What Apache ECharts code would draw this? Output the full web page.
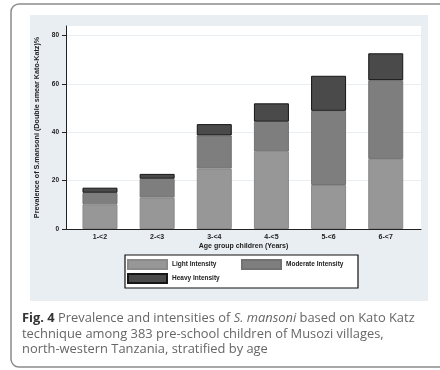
<!DOCTYPE html>
<html>
<head>
<meta charset="utf-8">
<script src="https://cdn.jsdelivr.net/npm/echarts@6/dist/echarts.min.js"></script>
<style>
  html, body { margin: 0; padding: 0; background: #fff; }
  #chart { width: 440px; height: 370px; }
</style>
</head>
<body>
<div id="chart"></div>
<script>
// Age groups (years) and prevalence (%) by infection intensity
const ageGroups = ['1-<2', '2-<3', '3-<4', '4-<5', '5-<6', '6-<7'];
const lightIntensity = [10.2, 13.0, 25.0, 32.0, 18.2, 29.0];
const moderateIntensity = [4.8, 7.8, 13.7, 12.4, 30.7, 32.6];
const heavyIntensity = [2.1, 2.0, 4.7, 7.6, 14.5, 11.1];
const yTicks = [0, 20, 40, 60, 80];
const yMax = 84;

const axisFont = 'Liberation Sans';
const chart = echarts.init(document.getElementById('chart'), null, { renderer: 'canvas' });

function barSeries(name, values, fill, border) {
  return {
    name: name,
    type: 'bar',
    stack: 'total',
    xAxisIndex: 1,
    yAxisIndex: 1,
    barWidth: 35,
    data: values,
    itemStyle: { color: fill, borderColor: border, borderWidth: 1 },
    emphasis: { disabled: true },
    z: 3
  };
}

function legendAt(left, top, name) {
  return {
    left: left, top: top, data: [name],
    itemWidth: 39, itemHeight: 9, padding: 0,
    icon: 'rect', selectedMode: false,
    textStyle: { fontFamily: axisFont, fontWeight: 'bold', fontSize: 6.5, color: '#222' },
    z: 10
  };
}

const option = {
  animation: false,
  backgroundColor: '#ffffff',
  graphic: [
    { type: 'rect', z: -10, shape: { x: 11, y: 4, width: 450, height: 363, r: 8 },
      style: { fill: '#ffffff', stroke: '#8c8c8c', lineWidth: 1.5 } },
    { type: 'rect', z: -9, shape: { x: 30, y: 15, width: 398, height: 286 },
      style: { fill: '#e8eef2' } },
    { type: 'rect', z: 5, shape: { x: 125, y: 255, width: 233, height: 33 },
      style: { fill: '#ffffff', stroke: '#111', lineWidth: 1.2 } },
    { type: 'text', left: 22, top: 311, z: 5,
      style: {
        text: '{b|Fig. 4} Prevalence and intensities of {i|S. mansoni} based on Kato Katz\n' +
              'technique among 383 pre-school children of Musozi villages,\n' +
              'north-western Tanzania, stratified by age',
        fontFamily: 'Open Sans', fontSize: 12.9, lineHeight: 15.5, fill: '#666',
        rich: {
          b: { fontFamily: 'Open Sans', fontWeight: 'bold', fontSize: 12.9, fill: '#333', lineHeight: 15.5 },
          i: { fontFamily: 'Open Sans', fontStyle: 'italic', fontSize: 12.9, fill: '#666', lineHeight: 15.5 }
        }
      } }
  ],
  legend: [
    legendAt(127, 259, 'Light Intensity'),
    legendAt(241, 259, 'Moderate Intensity'),
    legendAt(127, 273, 'Heavy Intensity')
  ],
  grid: [
    // plot region with the axis frame
    { left: 66, right: 19, top: 26, bottom: 141, show: true, backgroundColor: '#ffffff', borderWidth: 0 },
    // inner band holding the six bar categories
    { left: 71.4, right: 25.7, top: 26, bottom: 141 }
  ],
  xAxis: [
    {
      gridIndex: 0, type: 'value', min: 0, max: 1,
      name: 'Age group children (Years)',
      nameLocation: 'middle', nameGap: 14,
      nameTextStyle: { fontFamily: axisFont, fontWeight: 'bold', fontSize: 7, color: '#222' },
      axisLine: { show: true, onZero: false, lineStyle: { color: '#222', width: 1 } },
      axisTick: { show: false }, axisLabel: { show: false }, splitLine: { show: false }
    },
    {
      gridIndex: 1, type: 'category', data: ageGroups,
      axisLine: { show: false }, axisTick: { show: false }, splitLine: { show: false },
      axisLabel: { margin: 5, fontFamily: axisFont, fontWeight: 'bold', fontSize: 7, color: '#222' }
    }
  ],
  yAxis: [
    {
      gridIndex: 0, type: 'value', min: 0, max: yMax,
      name: 'Prevalence of S.mansoni (Double smear Kato-Katz)%',
      nameLocation: 'middle', nameRotate: 90, nameGap: 24,
      nameTextStyle: { fontFamily: axisFont, fontWeight: 'bold', fontSize: 7.2, color: '#222' },
      axisLine: { show: true, lineStyle: { color: '#222', width: 1 } },
      axisTick: { show: true, length: 4, customValues: yTicks, lineStyle: { color: '#222' } },
      splitLine: { show: true, lineStyle: { color: '#e9eef2', width: 1 } },
      axisLabel: { customValues: yTicks, margin: 7, fontFamily: axisFont, fontWeight: 'bold', fontSize: 6.5, color: '#222' }
    },
    {
      gridIndex: 1, type: 'value', min: 0, max: yMax, show: false,
      splitLine: { show: false }
    }
  ],
  series: [
    barSeries('Light Intensity', lightIntensity, '#979797', '#8a8a8a'),
    barSeries('Moderate Intensity', moderateIntensity, '#7e7e7e', '#727272'),
    barSeries('Heavy Intensity', heavyIntensity, '#4a4a4a', '#161616')
  ]
};

chart.setOption(option);
</script>
</body>
</html>
